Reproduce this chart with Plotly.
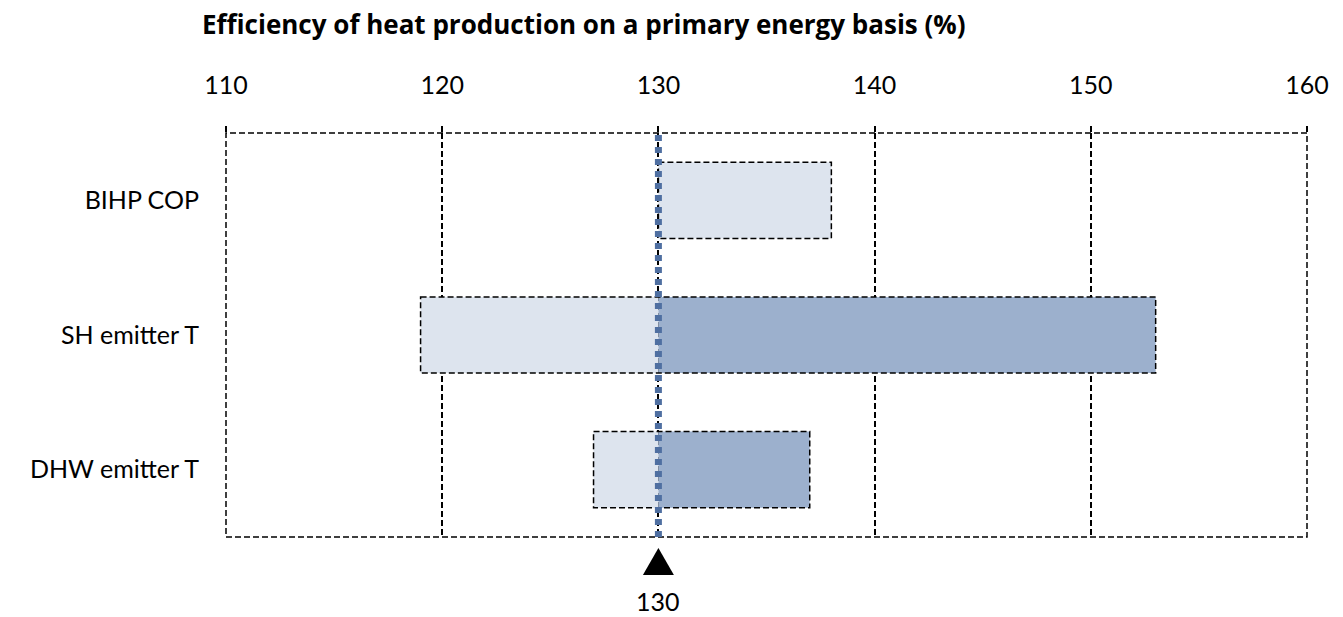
import plotly.graph_objects as go

# Sensitivity of primary-energy heat production efficiency (%)
categories = ["BIHP COP", "SH emitter T", "DHW emitter T"]
baseline = 130
low_case = [138, 119, 127]    # light bars
high_case = [130, 153, 137]   # dark bars
x_ticks = [110, 120, 130, 140, 150, 160]

LIGHT = "#DDE4EE"
DARK = "#9CB0CD"
LINE_BLUE = "#4F6FA1"
FONT = "Lato"
BAR_W = 0.565
DASH = "6px,3px"

ypos = list(range(len(categories)))

fig = go.Figure()
fig.add_trace(go.Bar(
    y=ypos, x=[v - baseline for v in low_case], base=baseline,
    orientation="h", width=BAR_W, marker=dict(color=LIGHT, line=dict(width=0)),
    showlegend=False, hoverinfo="skip",
))
fig.add_trace(go.Bar(
    y=ypos, x=[v - baseline for v in high_case], base=baseline,
    orientation="h", width=BAR_W, marker=dict(color=DARK, line=dict(width=0)),
    showlegend=False, hoverinfo="skip",
))

shapes = []
# dashed plot frame
shapes.append(dict(type="rect", xref="paper", yref="paper", x0=0, x1=1, y0=0, y1=1,
                   line=dict(color="black", width=1.5, dash=DASH), layer="below"))
# dashed outline around each bar
for i, (lo, hi) in enumerate(zip(low_case, high_case)):
    shapes.append(dict(type="rect", xref="x", yref="y",
                       x0=min(lo, hi, baseline), x1=max(lo, hi, baseline),
                       y0=i - BAR_W / 2, y1=i + BAR_W / 2,
                       line=dict(color="black", width=1.5, dash=DASH), layer="above"))
# baseline reference line
shapes.append(dict(type="line", xref="x", yref="paper", x0=baseline, x1=baseline, y0=0, y1=1,
                   line=dict(color=LINE_BLUE, width=7, dash="6px,6px"), layer="above"))
# baseline marker triangle under the axis
shapes.append(dict(type="path", xref="x", yref="paper", xsizemode="pixel", ysizemode="pixel",
                   xanchor=baseline, yanchor=0,
                   path="M-15.5,-38 L15.5,-38 L0,-11 Z",
                   fillcolor="black", line=dict(color="black", width=0), layer="above"))

fig.update_layout(
    width=1343, height=617,
    margin=dict(l=226, r=36, t=133, b=80),
    paper_bgcolor="white", plot_bgcolor="white",
    barmode="overlay",
    font=dict(family=FONT, size=25, color="black"),
    title=dict(text="<b>Efficiency of heat production on a primary energy basis (%)</b>",
               x=202 / 1343, xanchor="left", xref="container",
               y=1 - 25 / 617, yanchor="middle", yref="container",
               font=dict(family="Open Sans", size=26, color="black")),
    shapes=shapes,
    annotations=[dict(x=baseline, xref="x", y=0, yref="paper", yanchor="middle",
                      yshift=-64, text=str(baseline), showarrow=False,
                      font=dict(family=FONT, size=25, color="black"))],
    xaxis=dict(side="top", range=[110, 160], tickvals=x_ticks,
               ticks="outside", ticklen=6, tickwidth=1.5, tickcolor="black",
               ticklabelstandoff=22,
               showgrid=True, gridcolor="black", gridwidth=1.5, griddash=DASH,
               showline=False, zeroline=False, tickfont=dict(size=25)),
    yaxis=dict(range=[2.5, -0.5], tickvals=ypos, ticktext=categories,
               showgrid=False, zeroline=False, showline=False, ticks="",
               ticklabelstandoff=26, tickfont=dict(size=25)),
)

fig.write_html("out.html")
